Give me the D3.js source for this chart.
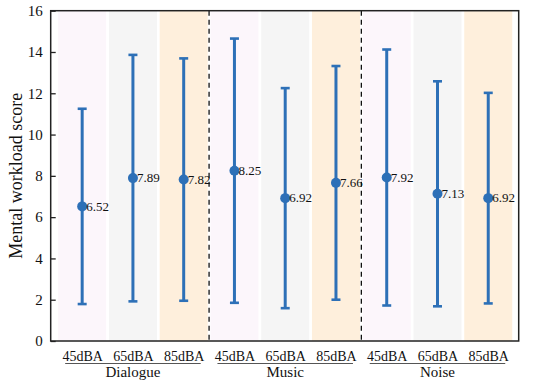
<!DOCTYPE html>
<html>
<head>
<meta charset="utf-8">
<script src="https://cdn.jsdelivr.net/npm/d3@7"></script>
<style>
  html, body { margin: 0; padding: 0; background: #fff; }
  svg { display: block; font-family: "Liberation Serif", "Times New Roman", serif; }
</style>
</head>
<body>
<svg id="chart" width="550" height="385"></svg>
<script>
const groups = ["Dialogue", "Music", "Noise"];
const levels = ["45dBA", "65dBA", "85dBA"];
const means = [6.52, 7.89, 7.82, 8.25, 6.92, 7.66, 7.92, 7.13, 6.92];
const errors = [4.73, 5.97, 5.87, 6.40, 5.33, 5.66, 6.20, 5.45, 5.10];
const yTicks = [0, 2, 4, 6, 8, 10, 12, 14, 16];
const stripeColors = ["#fcf6fb", "#f5f5f5", "#feefdc"];

const svg = d3.select("#chart");
const pLeft = 50.7, pRight = 518.7, pTop = 10.7, pBottom = 341;

const x = d3.scaleLinear().domain([-0.62, 8.6]).range([pLeft, pRight]);
const y = d3.scaleLinear().domain([0, 16]).range([pBottom, pTop]);

const items = means.map((m, i) => ({
  i, mean: m, err: errors[i],
  group: groups[Math.floor(i / 3)], level: levels[i % 3]
}));

// background stripes
svg.append("g").selectAll("rect").data(items).join("rect")
  .attr("x", d => x(d.i) - 24)
  .attr("width", 48)
  .attr("y", pTop)
  .attr("height", pBottom - pTop)
  .attr("fill", d => stripeColors[d.i % 3]);

// dashed separators
svg.append("g").selectAll("line").data([2.5, 5.5]).join("line")
  .attr("x1", d => x(d)).attr("x2", d => x(d))
  .attr("y1", pTop).attr("y2", pBottom)
  .attr("stroke", "#111").attr("stroke-width", 1.3)
  .attr("stroke-dasharray", "5,4");

// y axis (inward ticks)
const yAxis = d3.axisLeft(y).tickValues(yTicks).tickSizeInner(-5).tickSizeOuter(0).tickPadding(8);
const gy = svg.append("g").attr("transform", `translate(${pLeft},0)`).call(yAxis);
gy.select(".domain").remove();
gy.selectAll(".tick line").attr("stroke", "#222").attr("stroke-width", 1.3);
gy.selectAll(".tick text").attr("font-size", 15).attr("fill", "#111")
  .attr("font-family", "Liberation Serif, Times New Roman, serif");

// x tick labels
const xAxis = d3.axisBottom(x).tickValues(items.map(d => d.i))
  .tickFormat(i => levels[i % 3]).tickSize(0).tickPadding(10);
const gx = svg.append("g").attr("transform", `translate(0,${pBottom})`).call(xAxis);
gx.select(".domain").remove();
gx.selectAll(".tick text").attr("font-size", 14).attr("fill", "#111")
  .attr("font-family", "Liberation Serif, Times New Roman, serif");

// frame
svg.append("rect")
  .attr("x", pLeft).attr("y", pTop)
  .attr("width", pRight - pLeft).attr("height", pBottom - pTop)
  .attr("fill", "none").attr("stroke", "#222").attr("stroke-width", 1.5);

// group underline and labels
const gg = svg.append("g");
groups.forEach((g, k) => {
  gg.append("line")
    .attr("x1", x(k * 3) - 17).attr("x2", x(k * 3 + 2) + 17)
    .attr("y1", 363.5).attr("y2", 363.5)
    .attr("stroke", "#555").attr("stroke-width", 1.2);
  gg.append("text")
    .attr("x", x(k * 3 + 1)).attr("y", 377)
    .attr("text-anchor", "middle")
    .attr("font-size", 15).attr("fill", "#111")
    .text(g);
});

// y axis title
svg.append("text")
  .attr("transform", `translate(22,${(pTop + pBottom) / 2}) rotate(-90)`)
  .attr("text-anchor", "middle")
  .attr("font-size", 18).attr("fill", "#111")
  .text("Mental workload score");

// error bars
const blue = "#2d70b7";
const eb = svg.append("g");
eb.selectAll("line.bar").data(items).join("line").attr("class", "bar")
  .attr("x1", d => x(d.i)).attr("x2", d => x(d.i))
  .attr("y1", d => y(d.mean - d.err)).attr("y2", d => y(d.mean + d.err))
  .attr("stroke", blue).attr("stroke-width", 3);
eb.selectAll("line.capt").data(items).join("line").attr("class", "capt")
  .attr("x1", d => x(d.i) - 4.5).attr("x2", d => x(d.i) + 4.5)
  .attr("y1", d => y(d.mean + d.err)).attr("y2", d => y(d.mean + d.err))
  .attr("stroke", blue).attr("stroke-width", 2.6);
eb.selectAll("line.capb").data(items).join("line").attr("class", "capb")
  .attr("x1", d => x(d.i) - 4.5).attr("x2", d => x(d.i) + 4.5)
  .attr("y1", d => y(d.mean - d.err)).attr("y2", d => y(d.mean - d.err))
  .attr("stroke", blue).attr("stroke-width", 2.6);
eb.selectAll("circle").data(items).join("circle")
  .attr("cx", d => x(d.i)).attr("cy", d => y(d.mean))
  .attr("r", 5).attr("fill", blue);

// value labels
svg.append("g").selectAll("text").data(items).join("text")
  .attr("x", d => x(d.i) + 4)
  .attr("y", d => y(d.mean))
  .attr("dy", "0.33em")
  .attr("font-size", 13).attr("fill", "#111")
  .text(d => d.mean.toFixed(2));
</script>
</body>
</html>
